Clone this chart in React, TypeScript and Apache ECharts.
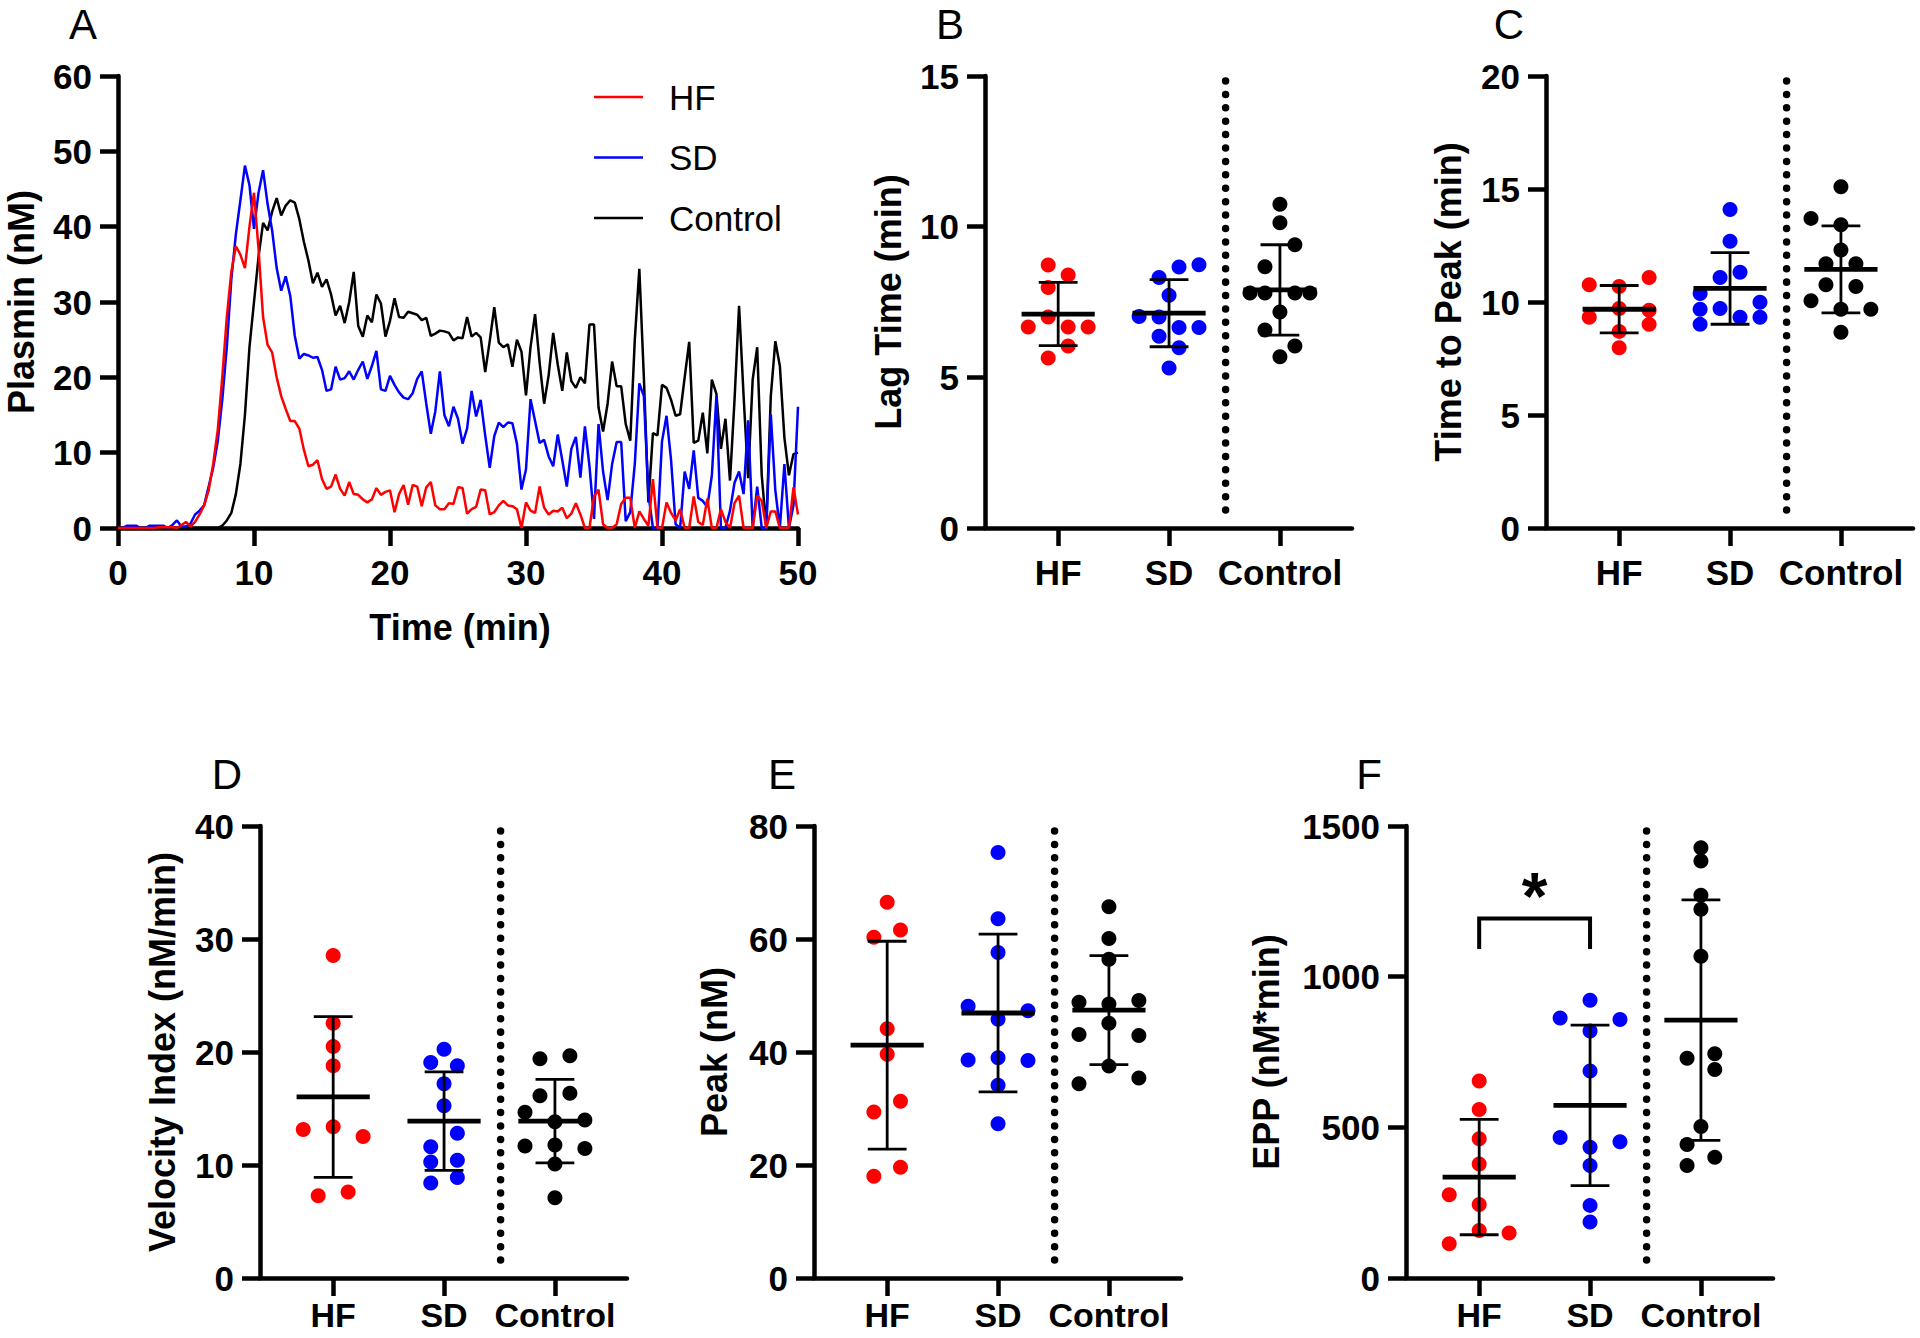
import React, { useEffect, useRef } from "react";
import * as echarts from "echarts";

const FONT = 'Arial, "Liberation Sans", Helvetica, sans-serif';
const RED = "#FF0000";
const BLUE = "#0000FF";
const BLACK = "#000000";
const GROUP_COLORS = [RED, BLUE, BLACK];
const GROUPS = ["HF", "SD", "Control"];

// ---------- Panel A: plasmin generation curves (sampled every 1/3 min) ----------
const TIME_STEP = 1 / 3;
const hfCurve = [
  0, 0, 0, 0, 0, 0, 0, 0, 0, 0.1,
  0.1, 0.1, 0.1, 0, 0.4, 0.8, 0.2, 0.8, 1.8, 3.0,
  5.0, 8.5, 13, 20, 28, 34, 37.4, 36.3, 34.5, 40,
  44.5, 37, 28, 24.3, 23.3, 20, 17.5, 15.8, 14.2, 14.2,
  13.2, 10.4, 8.2, 8.4, 9.0, 6.5, 5.2, 5.5, 7.1, 5.2,
  4.3, 6.1, 4.5, 4.4, 3.8, 3.4, 3.8, 5.3, 4.4, 4.8,
  5.0, 2.1, 4.5, 5.7, 3.1, 5.7, 5.5, 2.9, 5.4, 6.1,
  3.0, 2.5, 2.5, 3.3, 3.2, 5.4, 5.3, 1.9, 2.5, 2.8,
  5.1, 5.0, 1.8, 2.1, 3.0, 3.6, 3.0, 2.9, 2.5, 0,
  3.4, 2.3, 2.0, 5.5, 2.7, 1.8, 2.3, 2.2, 2.7, 1.3,
  1.9, 3.3, 1.8, 0, 0, 4.2, 5.1, 0.5, 0, 0,
  0.5, 3.2, 4.0, 4.0, 0, 2.2, 1.2, 0.3, 6.5, 0,
  0, 3.4, 2.0, 1.0, 2.5, 0, 0, 4.2, 0.8, 0.4,
  3.9, 0, 0, 2.5, 0.8, 0, 3.3, 4.3, 0, 0,
  0, 4.3, 3.6, 0, 2.2, 2.2, 0, 0, 0, 5.4,
  1.8,
];
const sdCurve = [
  0, 0, 0.3, 0.3, 0.3, 0, 0, 0.3, 0.3, 0.3,
  0.3, 0, 0.4, 1.0, 0.2, 0.2, 0.6, 1.8, 2.3, 3.0,
  5.5, 8, 11.5, 17, 24, 33, 39, 43.5, 48.1, 45.5,
  39.7, 44.5, 47.5, 43, 39.5, 34.5, 31.5, 33.4, 30.8, 25.5,
  22.5, 23.1, 22.9, 22.6, 22.7, 21, 18.2, 18.4, 21.4, 19.7,
  19.9, 20.8, 19.7, 21, 22.1, 19.8, 21.5, 23.5, 18.4, 18.2,
  20.2, 19, 18, 17.3, 17.1, 17.9, 19.8, 20.8, 16.5, 12.5,
  15.5, 20.8, 15, 13.5, 16.1, 14.5, 11.2, 13.2, 18.2, 14.8,
  17, 12.3, 8.0, 12.2, 14, 13.4, 14, 13.9, 11.2, 5.1,
  7.8, 17.1, 14.2, 11.3, 11.7, 9.5, 8.2, 12.4, 9, 5.5,
  10.5, 12.1, 6.7, 13.5, 8.2, 1.2, 13.8, 7.5, 3.7, 8.5,
  11.4, 11.4, 0.9, 2.1, 8.5, 19.2, 17.5, 4.5, 0, 0,
  11.5, 14.9, 9, 0.5, 0, 7.5, 5.2, 10.3, 4, 3.6,
  2.8, 7, 17.5, 0, 0, 2.3, 6, 7.5, 4.5, 14.3,
  0, 5.5, 0, 0, 15.1, 5, 0, 8.5, 0, 3,
  16.1,
];
const controlCurve = [
  0, 0, 0, 0, 0, 0, 0, 0, 0, 0,
  0, 0, 0, 0, 0, 0, 0, 0, 0, 0,
  0, 0, 0, 0.3, 1.0, 2.0, 4.5, 8.5, 15, 24,
  30, 36, 40.5, 39.5, 42, 43.8, 41.5, 42.8, 43.5, 43.2,
  41, 38, 35.5, 32.5, 33.9, 32, 33, 31, 28.2, 29.5,
  27.2, 30, 34, 26.8, 25.4, 28.2, 27.3, 31, 29.8, 25.4,
  27.5, 30.5, 28, 27.9, 28.7, 28.5, 28.3, 27.6, 27.9, 25.5,
  25.8, 26.2, 26.1, 25.9, 24.9, 25.3, 25.2, 28, 25.4, 25.9,
  25.3, 20.7, 24.8, 29.3, 24.6, 24, 24.4, 21.4, 25, 23.4,
  17.6, 24, 28.4, 22, 16.5, 20.3, 25.9, 21.7, 18.2, 23.3,
  19.5, 18.6, 20, 19.2, 27, 27, 16, 12.8, 16.5, 22.1,
  18.8, 18.8, 13.8, 11.6, 25, 34.4, 20, 3.4, 12.6, 12.3,
  19, 18.6, 17, 14.9, 15.1, 20, 24.7, 11.3, 11.6, 15.3,
  9.9, 19.7, 17.8, 10.5, 14.5, 6.3, 17, 29.5, 17.5, 6.6,
  19.7, 24, 7, 0, 17.5, 24.8, 21.5, 12, 7, 9.8,
  10,
];
const plasminTicksMax = 60;
const timeMax = 50;

// ---------- Panel B: Lag time (min) ----------
const lagHF = [8.73, 8.4, 7.98, 7.0, 6.67, 6.67, 6.67, 6.04, 5.64];
const lagHFJit = [-0.09, 0.09, -0.09, -0.09, -0.27, 0.09, 0.27, 0.09, -0.09];
const lagSD = [8.74, 8.66, 8.31, 7.72, 7.02, 7.0, 6.65, 6.65, 6.36, 5.98, 5.31];
const lagSDJit = [0.27, 0.09, -0.09, 0, -0.27, -0.09, 0.09, 0.27, -0.09, 0.09, 0];
const lagCtrl = [10.74, 10.13, 9.4, 8.67, 7.8, 7.8, 7.8, 7.8, 7.17, 6.57, 6.04, 5.68];
const lagCtrlJit = [0, 0, 0.135, -0.135, -0.27, -0.135, 0.135, 0.27, 0, -0.135, 0.135, 0];
const lagMean = [7.1, 7.13, 7.9];
const lagSDev = [1.05, 1.115, 1.5];

// ---------- Panel C: Time to peak (min) ----------
const ttpHF = [11.08, 10.76, 10.69, 9.33, 9.71, 9.64, 9.01, 8.7, 7.98];
const ttpHFJit = [0.27, -0.27, 0, -0.27, 0, 0.27, 0.27, 0, 0];
const ttpSD = [14.09, 12.69, 11.08, 11.32, 10.38, 9.68, 9.71, 9.99, 9.33, 9.33, 9.01];
const ttpSDJit = [0, 0, -0.09, 0.09, -0.27, -0.27, -0.09, 0.27, 0.09, 0.27, -0.27];
const ttpCtrl = [15.1, 13.7, 13.42, 12.3, 11.69, 11.69, 10.76, 10.69, 10.06, 9.68, 9.68, 8.66];
const ttpCtrlJit = [0, -0.27, 0, 0, -0.135, 0.135, -0.135, 0.135, -0.27, 0, 0.27, 0];
const ttpMean = [9.68, 10.6, 11.44];
const ttpSDev = [1.05, 1.585, 1.925];

// ---------- Panel D: Velocity index (nM/min) ----------
const viHF = [28.55, 22.55, 20.49, 18.79, 13.14, 13.38, 12.53, 7.28, 7.62];
const viHFJit = [0, 0, 0, 0, -0.27, 0, 0.27, -0.135, 0.135];
const viSD = [20.25, 19.07, 18.79, 17.2, 15.24, 12.8, 11.62, 10.26, 10.43, 8.9, 8.4];
const viSDJit = [0, -0.12, 0.12, 0, 0, 0.12, -0.12, -0.12, 0.12, 0.12, -0.12];
const viCtrl = [19.4, 19.67, 16.12, 16.36, 14.66, 13.82, 13.99, 11.68, 11.78, 11.45, 10.09, 7.11];
const viCtrlJit = [-0.135, 0.135, -0.135, 0.135, -0.27, 0, 0.27, -0.27, 0, 0.27, 0, 0];
const viMean = [16.02, 13.88, 13.88];
const viSDev = [7.11, 4.355, 3.69];

// ---------- Panel E: Peak (nM) ----------
const pkHF = [66.5, 61.6, 60.3, 44.1, 39.6, 31.3, 29.4, 19.6, 18.0];
const pkHFJit = [0, 0.12, -0.12, 0, 0, 0.12, -0.12, 0.12, -0.12];
const pkSD = [75.3, 63.6, 57.6, 48.1, 47.3, 45.8, 38.6, 39.0, 38.5, 34.1, 27.3];
const pkSDJit = [0, 0, 0, -0.27, 0.27, 0, -0.27, 0, 0.27, 0, 0];
const pkCtrl = [65.7, 60.1, 56.4, 48.8, 48.5, 49.1, 45.1, 43.1, 42.9, 37.5, 35.4, 34.4];
const pkCtrlJit = [0, 0, 0, -0.27, 0, 0.27, 0, -0.27, 0.27, 0, 0.27, -0.27];
const pkMean = [41.2, 46.9, 47.4];
const pkSDev = [18.4, 13.95, 9.65];

// ---------- Panel F: EPP (nM*min) ----------
const eppHF = [654, 559, 462, 378, 276, 244, 158, 149, 114];
const eppHFJit = [0, 0, 0, 0, -0.27, 0, 0, 0.27, -0.27];
const eppSD = [922, 863, 858, 820, 687, 466, 452, 434, 373, 241, 186];
const eppSDJit = [0, -0.27, 0.27, 0, 0, -0.27, 0.27, 0, 0, 0, 0];
const eppCtrl = [1428, 1384, 1270, 1224, 1068, 729, 744, 692, 503, 443, 401, 373];
const eppCtrlJit = [0, 0, 0, 0, 0, -0.125, 0.125, 0.125, 0, -0.125, 0.125, -0.125];
const eppMean = [335, 573, 856];
const eppSDev = [191.5, 266.5, 399];
// significance bracket HF vs SD: [x1, x2, bracket top, bracket foot, star level]
const eppBracket = [1, 2, 1193, 1092, 1268];
const eppBracketLabel = "*";

// ---------- layout ----------
const X_MIN = 0.34;
const X_MAX = 3.65;
const DIVIDER_X = 2.51;
const PANEL_W = 367;
const PANEL_H = 452;
const LETTER_FONT = `42px ${FONT}`;

type ScatterPanel = {
  letter: string;
  title: string;
  max: number;
  interval: number;
  values: number[][];
  jitter: number[][];
  mean: number[];
  sd: number[];
  left: number;
  top: number;
  titleX: number;
  letterX: number;
};

const scatterPanels: ScatterPanel[] = [
  { letter: "B", title: "Lag Time (min)", max: 15, interval: 5, values: [lagHF, lagSD, lagCtrl], jitter: [lagHFJit, lagSDJit, lagCtrlJit], mean: lagMean, sd: lagSDev, left: 985, top: 76, titleX: 888, letterX: 950 },
  { letter: "C", title: "Time to Peak (min)", max: 20, interval: 5, values: [ttpHF, ttpSD, ttpCtrl], jitter: [ttpHFJit, ttpSDJit, ttpCtrlJit], mean: ttpMean, sd: ttpSDev, left: 1546, top: 76, titleX: 1448, letterX: 1509 },
  { letter: "D", title: "Velocity Index (nM/min)", max: 40, interval: 10, values: [viHF, viSD, viCtrl], jitter: [viHFJit, viSDJit, viCtrlJit], mean: viMean, sd: viSDev, left: 260, top: 826, titleX: 162, letterX: 227 },
  { letter: "E", title: "Peak (nM)", max: 80, interval: 20, values: [pkHF, pkSD, pkCtrl], jitter: [pkHFJit, pkSDJit, pkCtrlJit], mean: pkMean, sd: pkSDev, left: 814, top: 826, titleX: 714, letterX: 782 },
  { letter: "F", title: "EPP (nM*min)", max: 1500, interval: 500, values: [eppHF, eppSD, eppCtrl], jitter: [eppHFJit, eppSDJit, eppCtrlJit], mean: eppMean, sd: eppSDev, left: 1406, top: 826, titleX: 1266, letterX: 1369 },
];

const AXIS_LINE = { lineStyle: { color: BLACK, width: 4.5 } };
const AXIS_TICK = { show: true, inside: false, length: 18, lineStyle: { color: BLACK, width: 4.5 } };
const TICK_LABEL = { color: BLACK, fontFamily: FONT, fontWeight: "bold" as const, fontSize: 35 };
const X_LABEL_TOP = { ...TICK_LABEL, lineHeight: 30, margin: 29 };
const X_LABEL_BOTTOM = { ...TICK_LABEL, fontSize: 34, lineHeight: 30, margin: 22 };
const plainNumber = (v: number) => String(v);

function buildOption() {
  const grid: any[] = [];
  const xAxis: any[] = [];
  const yAxis: any[] = [];
  const series: any[] = [];
  const graphic: any[] = [];

  // Panel A
  grid.push({ left: 118, top: 76, width: 680, height: PANEL_H });
  xAxis.push({
    type: "value", gridIndex: 0, min: 0, max: timeMax, interval: 10,
    axisLine: AXIS_LINE, axisTick: AXIS_TICK, splitLine: { show: false },
    axisLabel: { ...X_LABEL_TOP, formatter: plainNumber },
  });
  yAxis.push({
    type: "value", gridIndex: 0, min: 0, max: plasminTicksMax, interval: 10,
    axisLine: { show: true, ...AXIS_LINE }, axisTick: AXIS_TICK, splitLine: { show: false },
    axisLabel: { ...TICK_LABEL, margin: 26, formatter: plainNumber },
  });
  const curves = [
    { name: "Control", data: controlCurve, color: BLACK },
    { name: "SD", data: sdCurve, color: BLUE },
    { name: "HF", data: hfCurve, color: RED },
  ];
  curves.forEach((c) => {
    series.push({
      type: "line", name: c.name, xAxisIndex: 0, yAxisIndex: 0,
      data: c.data.map((v, i) => [Math.round(i * TIME_STEP * 1000) / 1000, v]),
      showSymbol: false, symbol: "none",
      lineStyle: { color: c.color, width: 2.5 }, itemStyle: { color: c.color },
      clip: false,
    });
  });
  graphic.push({ type: "text", x: 83, y: 3, style: { text: "A", fill: BLACK, font: LETTER_FONT, align: "center", verticalAlign: "top" } });
  graphic.push({ type: "text", x: 21, y: 302, rotation: Math.PI / 2, style: { text: "Plasmin (nM)", fill: BLACK, font: `bold 36px ${FONT}`, align: "center", verticalAlign: "middle" } });
  graphic.push({ type: "text", x: 460, y: 627, style: { text: "Time (min)", fill: BLACK, font: `bold 36px ${FONT}`, align: "center", verticalAlign: "middle" } });
  // legend
  const legendItems = [
    { name: "HF", color: RED },
    { name: "SD", color: BLUE },
    { name: "Control", color: BLACK },
  ];
  legendItems.forEach((it, i) => {
    const y = 97 + i * 60.5;
    graphic.push({ type: "line", shape: { x1: 594, y1: y, x2: 643, y2: y }, style: { stroke: it.color, lineWidth: 2.5 } });
    graphic.push({ type: "text", x: 669, y, style: { text: it.name, fill: BLACK, font: `35px ${FONT}`, align: "left", verticalAlign: "middle" } });
  });

  // Scatter panels
  scatterPanels.forEach((p, k) => {
    const gi = k + 1;
    const isTop = p.top === 76;
    grid.push({ left: p.left, top: p.top, width: PANEL_W, height: PANEL_H });
    xAxis.push({
      type: "value", gridIndex: gi, min: X_MIN, max: X_MAX,
      axisLine: AXIS_LINE,
      axisTick: { ...AXIS_TICK, customValues: [1, 2, 3] },
      splitLine: { show: false },
      axisLabel: {
        ...(isTop ? X_LABEL_TOP : X_LABEL_BOTTOM), customValues: [1, 2, 3],
        formatter: (v: number) => GROUPS[Math.round(v) - 1] ?? "",
      },
    });
    yAxis.push({
      type: "value", gridIndex: gi, min: 0, max: p.max, interval: p.interval,
      axisLine: { show: true, ...AXIS_LINE }, axisTick: AXIS_TICK, splitLine: { show: false },
      axisLabel: { ...TICK_LABEL, margin: 26, formatter: plainNumber },
    });
    p.values.forEach((vals, g) => {
      series.push({
        type: "scatter", name: `${p.letter}-${GROUPS[g]}`, xAxisIndex: gi, yAxisIndex: gi,
        data: vals.map((v, j) => [g + 1 + p.jitter[g][j], v]),
        symbol: "circle", symbolSize: 15,
        itemStyle: { color: GROUP_COLORS[g], opacity: 1 },
        z: 2,
      });
    });
    // mean ± SD
    series.push({
      type: "custom", name: `${p.letter}-meanSD`, xAxisIndex: gi, yAxisIndex: gi,
      data: GROUPS.map((_, g) => [g + 1, p.mean[g], p.sd[g]]),
      z: 5,
      renderItem: (_params: any, api: any) => {
        const x = api.value(0), m = api.value(1), s = api.value(2);
        const top = api.coord([x, m + s]);
        const bot = api.coord([x, m - s]);
        const ctr = api.coord([x, m]);
        const half = api.size([0.175, 0])[0];
        const mhalf = api.size([0.33, 0])[0];
        const st = { stroke: BLACK, lineWidth: 2.8 };
        return {
          type: "group",
          children: [
            { type: "line", shape: { x1: top[0], y1: top[1], x2: bot[0], y2: bot[1] }, style: st },
            { type: "line", shape: { x1: top[0] - half, y1: top[1], x2: top[0] + half, y2: top[1] }, style: st },
            { type: "line", shape: { x1: bot[0] - half, y1: bot[1], x2: bot[0] + half, y2: bot[1] }, style: st },
            { type: "line", shape: { x1: ctr[0] - mhalf, y1: ctr[1], x2: ctr[0] + mhalf, y2: ctr[1] }, style: { stroke: BLACK, lineWidth: 4.8 } },
          ],
        };
      },
    });
    // dotted divider between SD and Control
    series.push({
      type: "custom", name: `${p.letter}-divider`, xAxisIndex: gi, yAxisIndex: gi,
      data: [[DIVIDER_X, p.max]],
      z: 1,
      renderItem: (_params: any, api: any) => {
        const x = api.value(0), mx = api.value(1);
        const a = api.coord([x, mx * 0.989]);
        const b = api.coord([x, mx * 0.026]);
        return {
          type: "line",
          shape: { x1: a[0], y1: a[1], x2: b[0], y2: b[1] },
          style: { stroke: BLACK, lineWidth: 7.5, lineCap: "round", lineDash: [0.01, 13.4] },
        };
      },
    });
    graphic.push({ type: "text", x: p.letterX, y: isTop ? 3 : 753, style: { text: p.letter, fill: BLACK, font: LETTER_FONT, align: "center", verticalAlign: "top" } });
    graphic.push({ type: "text", x: p.titleX, y: p.top + PANEL_H / 2, rotation: Math.PI / 2, style: { text: p.title, fill: BLACK, font: `bold 36px ${FONT}`, align: "center", verticalAlign: "middle" } });
  });

  // significance bracket on panel F
  series.push({
    type: "custom", name: "F-significance", xAxisIndex: 5, yAxisIndex: 5,
    data: [eppBracket],
    z: 6,
    renderItem: (_params: any, api: any) => {
      const x1 = api.value(0), x2 = api.value(1), yt = api.value(2), yf = api.value(3), ys = api.value(4);
      const p1 = api.coord([x1, yf]);
      const p2 = api.coord([x1, yt]);
      const p3 = api.coord([x2, yt]);
      const p4 = api.coord([x2, yf]);
      const ps = api.coord([(x1 + x2) / 2, ys]);
      return {
        type: "group",
        children: [
          { type: "polyline", shape: { points: [p1, p2, p3, p4] }, style: { stroke: BLACK, lineWidth: 4, fill: "none", lineJoin: "miter" } },
          { type: "text", x: ps[0], y: ps[1], style: { text: eppBracketLabel, fill: BLACK, font: `bold 66px ${FONT}`, align: "center", verticalAlign: "middle" } },
        ],
      };
    },
  });

  return {
    animation: false,
    backgroundColor: "#ffffff",
    textStyle: { fontFamily: FONT },
    grid,
    xAxis,
    yAxis,
    series,
    graphic,
  };
}

export default function App() {
  const ref = useRef<HTMLDivElement>(null);
  useEffect(() => {
    if (!ref.current) return;
    const chart = echarts.init(ref.current, undefined, { renderer: "svg" });
    chart.setOption(buildOption() as any);
    return () => chart.dispose();
  }, []);
  return (
    <div
      ref={ref}
      style={{ position: "absolute", left: 0, top: 0, width: 1920, height: 1338, background: "#fff" }}
    />
  );
}
